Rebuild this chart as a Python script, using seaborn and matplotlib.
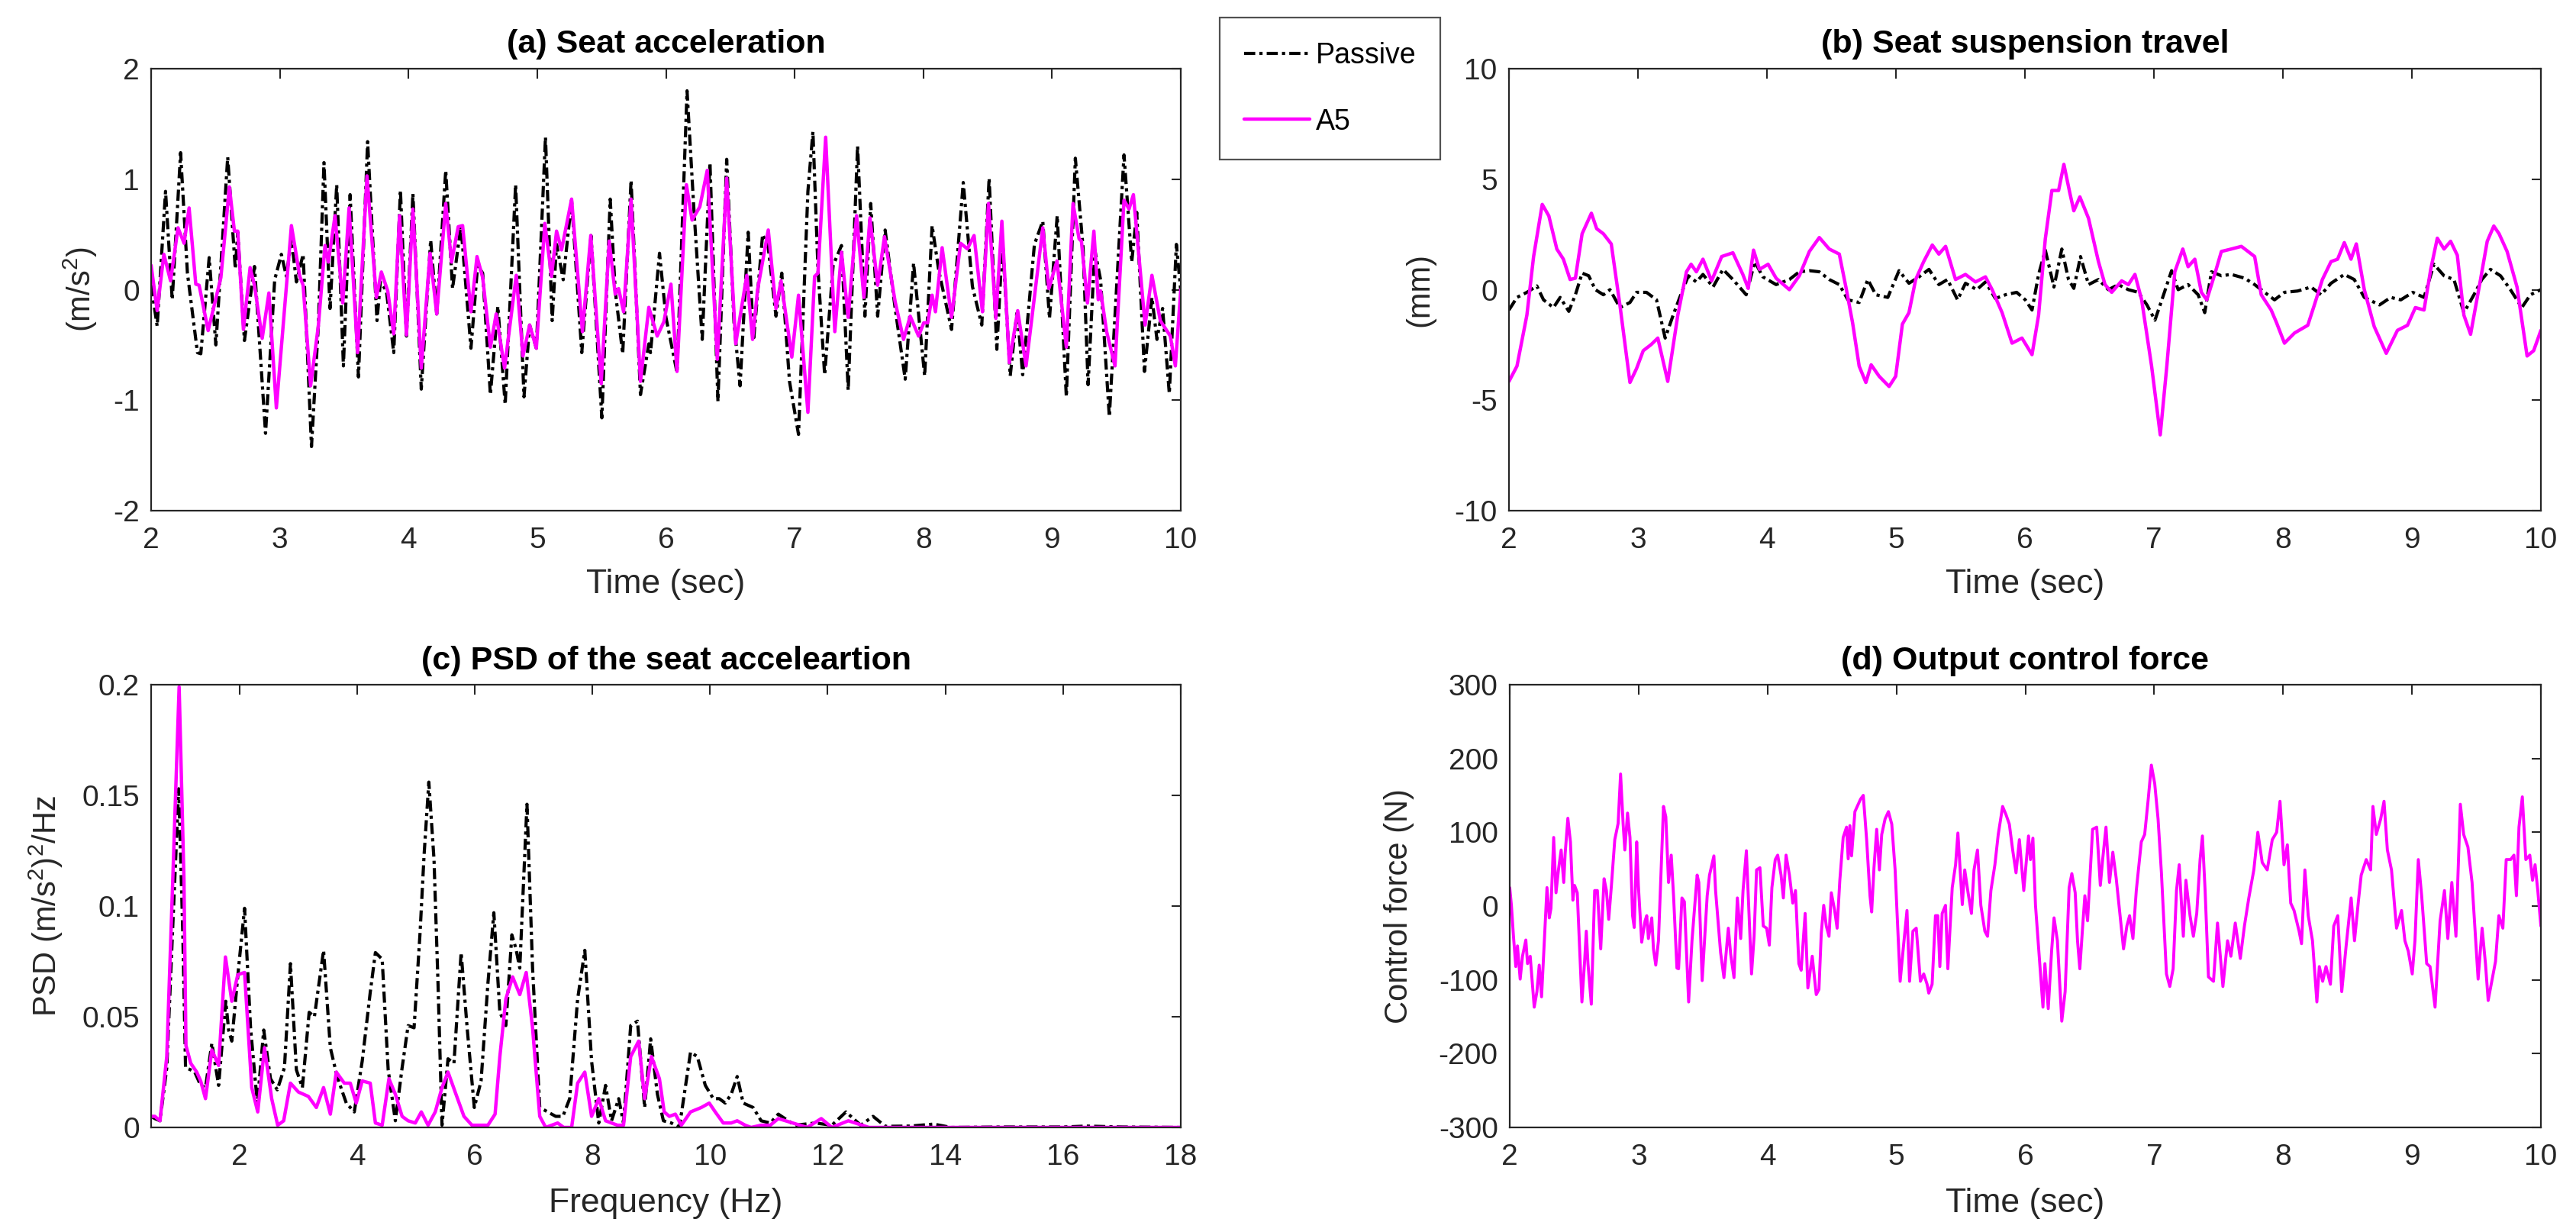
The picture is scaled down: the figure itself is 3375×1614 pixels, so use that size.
import numpy as np
import pandas as pd
import matplotlib
matplotlib.use("Agg")
import matplotlib.pyplot as plt
import matplotlib.ticker as mticker
import seaborn as sns

# ---------------------------------------------------------
# data
# ---------------------------------------------------------

# (a) seat acceleration (m/s^2)
acc_t_passive = [2.000, 2.047, 2.112, 2.164, 2.229, 2.282, 2.360, 2.386, 2.451, 2.503,
                 2.595, 2.654, 2.673, 2.725, 2.803, 2.889, 2.960, 3.012, 3.051, 3.090,
                 3.129, 3.181, 3.246, 3.299, 3.343, 3.390, 3.442, 3.494, 3.546, 3.611,
                 3.682, 3.755, 3.781, 3.828, 3.885, 3.937, 3.984, 4.034, 4.099, 4.172,
                 4.219, 4.289, 4.342, 4.407, 4.485, 4.537, 4.576, 4.636, 4.694, 4.751,
                 4.832, 4.897, 4.941, 4.993, 5.064, 5.116, 5.150, 5.202, 5.267, 5.346,
                 5.418, 5.502, 5.567, 5.606, 5.664, 5.729, 5.802, 5.867, 5.880, 5.950,
                 6.000, 6.086, 6.164, 6.216, 6.282, 6.342, 6.404, 6.472, 6.529, 6.576,
                 6.639, 6.681, 6.751, 6.795, 6.855, 6.900, 6.960, 7.030, 7.103, 7.142,
                 7.181, 7.233, 7.299, 7.364, 7.416, 7.489, 7.546, 7.591, 7.645, 7.703,
                 7.781, 7.859, 7.924, 8.010, 8.068, 8.120, 8.219, 8.310, 8.381, 8.454,
                 8.511, 8.571, 8.615, 8.675, 8.728, 8.772, 8.863, 8.928, 8.980, 9.040,
                 9.111, 9.181, 9.241, 9.280, 9.332, 9.377, 9.445, 9.559, 9.619, 9.658,
                 9.718, 9.776, 9.815, 9.859, 9.911, 9.966, 10.000]
acc_passive = [0.04, -0.33, 0.89, -0.09, 1.24, 0.15, -0.57, -0.58, 0.29, -0.50,
               1.20, 0.19, 0.52, -0.46, 0.21, -1.30, 0.09, 0.32, 0.12, 0.46,
               0.07, 0.32, -1.42, -0.33, 1.15, -0.17, 0.95, -0.69, 0.86, -0.79,
               1.34, -0.28, 0.07, -0.01, -0.57, 0.90, -0.42, 0.87, -0.90, 0.45,
               -0.22, 1.08, 0.01, 0.58, -0.53, 0.22, 0.15, -0.95, -0.15, -1.04,
               0.95, -0.97, -0.32, -0.53, 1.38, -0.28, 0.41, 0.09, 0.81, -0.57,
               0.49, -1.16, 0.82, -0.01, -0.58, 0.99, -0.95, -0.49, -0.57, 0.33,
               -0.25, -0.75, 1.80, 0.75, -0.45, 1.15, -1.01, 1.18, -0.30, -0.87,
               0.52, -0.46, 0.50, 0.38, -0.24, 0.15, -0.83, -1.31, 0.89, 1.43,
               0.19, -0.77, 0.22, 0.40, -0.91, 1.30, -0.24, 0.78, -0.24, 0.54,
               -0.17, -0.81, 0.24, -0.78, 0.58, 0.17, -0.36, 0.97, 0.03, -0.32,
               1.01, -0.54, 0.44, -0.78, -0.19, -0.77, 0.41, 0.62, -0.26, 0.67,
               -0.97, 1.19, 0.38, -0.86, 0.36, 0.09, -1.15, 1.22, 0.25, 0.70,
               -0.74, -0.07, -0.45, -0.17, -0.94, 0.41, -0.01]

acc_t_a5 = [2.000, 2.047, 2.099, 2.151, 2.209, 2.256, 2.295, 2.347, 2.373, 2.443,
            2.542, 2.608, 2.647, 2.673, 2.717, 2.769, 2.803, 2.863, 2.915, 2.973,
            3.090, 3.155, 3.181, 3.239, 3.299, 3.351, 3.377, 3.429, 3.489, 3.538,
            3.604, 3.677, 3.750, 3.789, 3.838, 3.885, 3.930, 3.984, 4.034, 4.099,
            4.167, 4.219, 4.289, 4.334, 4.386, 4.420, 4.485, 4.532, 4.576, 4.636,
            4.681, 4.746, 4.837, 4.889, 4.941, 4.993, 5.059, 5.111, 5.150, 5.189,
            5.267, 5.351, 5.416, 5.497, 5.559, 5.606, 5.632, 5.671, 5.729, 5.802,
            5.867, 5.932, 5.984, 6.039, 6.086, 6.159, 6.203, 6.263, 6.321, 6.399,
            6.472, 6.542, 6.628, 6.673, 6.712, 6.795, 6.855, 6.894, 6.978, 7.030,
            7.103, 7.155, 7.181, 7.241, 7.312, 7.364, 7.416, 7.481, 7.538, 7.585,
            7.645, 7.698, 7.781, 7.846, 7.898, 7.963, 8.003, 8.034, 8.068, 8.094,
            8.146, 8.219, 8.289, 8.342, 8.394, 8.459, 8.506, 8.563, 8.610, 8.668,
            8.733, 8.798, 8.928, 8.975, 9.038, 9.111, 9.163, 9.210, 9.228, 9.275,
            9.325, 9.359, 9.377, 9.424, 9.489, 9.559, 9.598, 9.632, 9.723, 9.776,
            9.841, 9.919, 9.958, 10.000]
acc_a5 = [0.22, -0.19, 0.32, 0.08, 0.56, 0.42, 0.74, 0.05, 0.04, -0.37,
          0.11, 0.93, 0.53, 0.53, -0.36, 0.20, 0.04, -0.44, -0.03, -1.07,
          0.58, 0.12, 0.04, -0.87, -0.33, 0.40, 0.25, 0.67, -0.12, 0.74,
          -0.57, 1.03, -0.07, 0.16, -0.01, -0.40, 0.67, -0.41, 0.73, -0.71,
          0.33, -0.22, 0.78, 0.25, 0.57, 0.58, -0.20, 0.30, 0.11, -0.52,
          -0.22, -0.71, 0.13, -0.60, -0.32, -0.53, 0.60, 0.12, 0.53, 0.36,
          0.82, -0.38, 0.49, -0.85, 0.44, -0.04, 0.01, -0.20, 0.82, -0.83,
          -0.16, -0.42, -0.29, 0.05, -0.74, 0.95, 0.63, 0.75, 1.08, -0.63,
          1.01, -0.49, 0.13, -0.45, 0.00, 0.54, -0.17, 0.08, -0.61, -0.05,
          -1.11, 0.12, 0.15, 1.38, -0.38, 0.34, -0.25, 0.67, -0.07, 0.65,
          0.04, 0.48, -0.11, -0.45, -0.24, -0.42, -0.30, -0.30, -0.05, -0.20,
          0.38, -0.25, 0.42, 0.37, 0.49, -0.20, 0.78, -0.26, 0.62, -0.66,
          -0.19, -0.69, 0.56, 0.01, 0.26, -0.52, 0.78, 0.46, 0.44, -0.12,
          0.53, -0.09, -0.01, -0.38, -0.69, 0.81, 0.73, 0.86, -0.32, 0.13,
          -0.28, -0.42, -0.69, 0.00]

# (b) seat suspension travel (mm)
trv_t_passive = [2.000, 2.062, 2.139, 2.216, 2.268, 2.345, 2.397, 2.464, 2.515, 2.567,
                 2.618, 2.670, 2.732, 2.783, 2.860, 2.938, 2.989, 3.066, 3.144, 3.211,
                 3.273, 3.324, 3.391, 3.453, 3.504, 3.582, 3.659, 3.736, 3.839, 3.906,
                 3.968, 4.071, 4.174, 4.251, 4.329, 4.406, 4.483, 4.561, 4.628, 4.715,
                 4.782, 4.844, 4.937, 5.024, 5.101, 5.179, 5.256, 5.333, 5.400, 5.478,
                 5.539, 5.627, 5.694, 5.771, 5.849, 5.936, 6.003, 6.055, 6.106, 6.158,
                 6.225, 6.286, 6.338, 6.379, 6.431, 6.493, 6.570, 6.647, 6.724, 6.802,
                 6.879, 6.946, 7.008, 7.075, 7.137, 7.188, 7.265, 7.343, 7.394, 7.446,
                 7.523, 7.600, 7.703, 7.781, 7.858, 7.935, 8.012, 8.115, 8.218, 8.296,
                 8.373, 8.476, 8.553, 8.631, 8.749, 8.836, 8.914, 9.007, 9.094, 9.171,
                 9.249, 9.326, 9.403, 9.481, 9.542, 9.609, 9.687, 9.764, 9.852, 9.919,
                 10.000]
trv_passive = [-0.92, -0.35, -0.12, 0.17, -0.46, -0.81, -0.35, -0.98, -0.23, 0.75,
               0.63, 0.00, -0.23, 0.00, -0.81, -0.58, -0.12, -0.12, -0.46, -2.19,
               -1.15, -0.35, 0.63, 0.35, 0.69, 0.12, 0.92, 0.46, -0.23, 1.27,
               0.58, 0.23, 0.46, 0.81, 0.86, 0.81, 0.46, 0.23, -0.46, -0.58,
               0.46, -0.23, -0.35, 0.86, 0.29, 0.58, 0.92, 0.23, 0.46, -0.46,
               0.29, 0.00, 0.35, -0.40, -0.23, -0.12, -0.46, -0.92, 0.69, 1.79,
               0.12, 1.84, 0.46, 0.06, 1.50, 0.23, 0.46, 0.00, 0.23, 0.00,
               -0.12, -0.69, -1.38, -0.23, 0.86, 0.00, 0.23, -0.23, -1.04, 0.81,
               0.63, 0.69, 0.52, 0.23, -0.12, -0.46, -0.12, -0.06, 0.12, -0.23,
               0.29, 0.69, 0.46, -0.35, -0.69, -0.35, -0.46, -0.12, -0.35, 1.15,
               0.63, 0.46, -1.04, -0.23, 0.46, 0.92, 0.63, 0.00, -0.81, -0.23,
               0.00]

trv_t_a5 = [2.000, 2.062, 2.139, 2.191, 2.258, 2.309, 2.371, 2.422, 2.474, 2.515,
            2.567, 2.639, 2.680, 2.732, 2.793, 2.860, 2.938, 2.989, 3.041, 3.103,
            3.154, 3.231, 3.309, 3.376, 3.412, 3.453, 3.504, 3.571, 3.649, 3.736,
            3.813, 3.855, 3.896, 3.942, 4.009, 4.071, 4.174, 4.251, 4.329, 4.406,
            4.483, 4.561, 4.612, 4.664, 4.715, 4.767, 4.808, 4.870, 4.947, 4.998,
            5.050, 5.101, 5.153, 5.215, 5.282, 5.333, 5.385, 5.462, 5.539, 5.617,
            5.694, 5.746, 5.823, 5.900, 5.977, 6.055, 6.106, 6.158, 6.209, 6.261,
            6.302, 6.348, 6.379, 6.426, 6.493, 6.570, 6.621, 6.673, 6.750, 6.802,
            6.853, 6.905, 6.982, 7.049, 7.100, 7.162, 7.224, 7.265, 7.317, 7.368,
            7.410, 7.471, 7.523, 7.600, 7.678, 7.781, 7.832, 7.909, 7.951, 8.012,
            8.090, 8.193, 8.244, 8.306, 8.373, 8.424, 8.476, 8.528, 8.569, 8.631,
            8.708, 8.801, 8.888, 8.966, 9.027, 9.094, 9.146, 9.197, 9.249, 9.300,
            9.352, 9.403, 9.455, 9.532, 9.584, 9.635, 9.676, 9.738, 9.815, 9.893,
            9.944, 10.000]
trv_a5 = [-4.15, -3.46, -1.15, 1.50, 3.86, 3.34, 1.84, 1.38, 0.46, 0.52,
          2.53, 3.46, 2.76, 2.53, 2.07, -0.69, -4.20, -3.57, -2.76, -2.48,
          -2.19, -4.15, -1.15, 0.81, 1.15, 0.81, 1.38, 0.40, 1.50, 1.67,
          0.69, 0.06, 1.79, 0.92, 1.15, 0.52, 0.00, 0.63, 1.73, 2.36,
          1.84, 1.61, 0.12, -1.50, -3.46, -4.20, -3.40, -3.92, -4.38, -3.92,
          -1.56, -1.04, 0.46, 1.27, 2.02, 1.61, 1.96, 0.46, 0.69, 0.35,
          0.58, 0.00, -1.04, -2.42, -2.19, -2.94, -1.15, 2.30, 4.49, 4.49,
          5.67, 4.38, 3.57, 4.20, 3.23, 1.27, 0.23, -0.12, 0.40, 0.23,
          0.69, -0.46, -3.46, -6.57, -3.46, 0.81, 1.84, 1.04, 1.38, -0.12,
          -0.46, 0.69, 1.73, 1.84, 1.96, 1.50, -0.23, -0.92, -1.50, -2.42,
          -1.96, -1.61, -0.69, 0.46, 1.27, 1.38, 2.13, 1.38, 2.07, 0.00,
          -1.67, -2.88, -1.84, -1.61, -0.81, -0.92, 0.92, 2.33, 1.84, 2.19,
          1.56, -1.15, -2.02, 0.46, 2.19, 2.88, 2.53, 1.73, 0.12, -3.00,
          -2.76, -1.84]

# (c) PSD of the seat acceleration ((m/s^2)^2/Hz)
psd_f_passive = [0.500, 0.563, 0.651, 0.766, 0.881, 0.969, 1.037, 1.085, 1.173, 1.241,
                 1.342, 1.424, 1.532, 1.647, 1.769, 1.817, 1.871, 1.986, 2.088, 2.190,
                 2.305, 2.414, 2.529, 2.644, 2.766, 2.868, 2.969, 3.071, 3.186, 3.275,
                 3.431, 3.546, 3.661, 3.817, 3.953, 4.088, 4.224, 4.312, 4.427, 4.529,
                 4.651, 4.766, 4.868, 4.969, 5.071, 5.139, 5.220, 5.308, 5.376, 5.444,
                 5.546, 5.647, 5.769, 5.871, 5.993, 6.108, 6.224, 6.325, 6.427, 6.529,
                 6.631, 6.698, 6.766, 6.820, 6.888, 6.983, 7.105, 7.241, 7.376, 7.498,
                 7.614, 7.749, 7.871, 7.986, 8.108, 8.224, 8.325, 8.447, 8.529, 8.651,
                 8.766, 8.888, 8.990, 9.105, 9.207, 9.342, 9.478, 9.668, 9.783, 9.919,
                 10.054, 10.156, 10.258, 10.359, 10.461, 10.563, 10.732, 10.868, 11.024, 11.160,
                 11.440, 11.790, 12.070, 12.310, 12.560, 12.770, 12.980, 13.400, 13.800, 14.100,
                 15.000, 16.000, 16.400, 17.000, 18.000]
psd_passive = [0.005, 0.004, 0.003, 0.027, 0.099, 0.153, 0.089, 0.027, 0.026, 0.025,
               0.019, 0.018, 0.038, 0.019, 0.057, 0.044, 0.039, 0.072, 0.099, 0.045,
               0.011, 0.044, 0.022, 0.017, 0.027, 0.074, 0.026, 0.018, 0.052, 0.050,
               0.080, 0.036, 0.023, 0.011, 0.007, 0.030, 0.061, 0.079, 0.076, 0.026,
               0.003, 0.027, 0.046, 0.045, 0.088, 0.123, 0.156, 0.121, 0.065, 0.001,
               0.031, 0.029, 0.079, 0.045, 0.009, 0.021, 0.065, 0.097, 0.052, 0.046,
               0.087, 0.081, 0.072, 0.105, 0.146, 0.072, 0.009, 0.007, 0.005, 0.005,
               0.013, 0.058, 0.080, 0.030, 0.002, 0.019, 0.003, 0.013, 0.002, 0.046,
               0.048, 0.009, 0.040, 0.015, 0.003, 0.002, 0.000, 0.034, 0.032, 0.019,
               0.013, 0.013, 0.011, 0.015, 0.023, 0.011, 0.009, 0.003, 0.002, 0.006,
               0.001, 0.002, 0.001, 0.007, 0.001, 0.005, 0.0005, 0.0006, 0.0015, 0.000,
               0.0002, 0.0002, 0.0006, 0.0002, 0.000]

psd_f_a5 = [0.500, 0.563, 0.651, 0.766, 0.868, 0.976, 1.058, 1.092, 1.173, 1.275,
            1.342, 1.424, 1.532, 1.647, 1.763, 1.871, 1.973, 2.088, 2.210, 2.312,
            2.427, 2.549, 2.651, 2.753, 2.868, 3.003, 3.173, 3.308, 3.431, 3.546,
            3.647, 3.783, 3.885, 3.986, 4.088, 4.224, 4.312, 4.427, 4.542, 4.651,
            4.766, 4.868, 4.990, 5.092, 5.207, 5.329, 5.444, 5.546, 5.681, 5.817,
            5.953, 6.088, 6.224, 6.346, 6.427, 6.529, 6.644, 6.766, 6.875, 6.983,
            7.105, 7.207, 7.308, 7.410, 7.512, 7.647, 7.749, 7.871, 7.986, 8.108,
            8.224, 8.325, 8.427, 8.529, 8.651, 8.786, 8.888, 9.003, 9.139, 9.220,
            9.308, 9.410, 9.512, 9.668, 9.851, 9.986, 10.088, 10.224, 10.359, 10.461,
            10.597, 10.698, 10.868, 11.024, 11.160, 11.650, 11.890, 12.070, 12.350, 12.700,
            14.000, 16.000, 18.000]
psd_a5 = [0.005, 0.005, 0.003, 0.032, 0.112, 0.199, 0.112, 0.037, 0.029, 0.025,
          0.021, 0.013, 0.035, 0.028, 0.077, 0.057, 0.069, 0.070, 0.018, 0.007,
          0.036, 0.013, 0.001, 0.003, 0.020, 0.016, 0.014, 0.009, 0.018, 0.006,
          0.025, 0.020, 0.020, 0.011, 0.021, 0.020, 0.002, 0.001, 0.022, 0.015,
          0.005, 0.003, 0.002, 0.007, 0.001, 0.007, 0.018, 0.025, 0.015, 0.005,
          0.001, 0.001, 0.001, 0.006, 0.032, 0.058, 0.068, 0.060, 0.070, 0.045,
          0.005, 0.000, 0.001, 0.002, 0.000, 0.000, 0.020, 0.025, 0.005, 0.013,
          0.003, 0.002, 0.001, 0.001, 0.032, 0.039, 0.013, 0.032, 0.022, 0.007,
          0.005, 0.006, 0.001, 0.007, 0.009, 0.011, 0.007, 0.002, 0.002, 0.003,
          0.001, 0.000, 0.001, 0.001, 0.004, 0.000, 0.004, 0.000, 0.003, 0.000,
          0.000, 0.000, 0.000]

# (d) output control force (N), A5 only
force_t = [2.000, 2.013, 2.029, 2.047, 2.060, 2.081, 2.099, 2.125, 2.138, 2.159,
           2.190, 2.211, 2.229, 2.247, 2.289, 2.307, 2.320, 2.341, 2.359, 2.378,
           2.399, 2.419, 2.430, 2.451, 2.471, 2.490, 2.503, 2.524, 2.560, 2.581,
           2.594, 2.607, 2.633, 2.659, 2.680, 2.706, 2.732, 2.750, 2.768, 2.789,
           2.815, 2.841, 2.860, 2.880, 2.893, 2.914, 2.933, 2.953, 2.966, 2.985,
           2.998, 3.024, 3.050, 3.063, 3.076, 3.102, 3.115, 3.133, 3.154, 3.193,
           3.211, 3.232, 3.253, 3.271, 3.297, 3.310, 3.336, 3.355, 3.388, 3.414,
           3.454, 3.467, 3.493, 3.532, 3.550, 3.584, 3.597, 3.636, 3.662, 3.696,
           3.714, 3.740, 3.766, 3.792, 3.810, 3.836, 3.876, 3.896, 3.915, 3.941,
           3.967, 3.993, 4.014, 4.034, 4.060, 4.079, 4.105, 4.123, 4.144, 4.170,
           4.196, 4.217, 4.243, 4.261, 4.292, 4.313, 4.347, 4.378, 4.399, 4.417,
           4.436, 4.456, 4.477, 4.495, 4.521, 4.540, 4.561, 4.587, 4.613, 4.626,
           4.639, 4.652, 4.678, 4.704, 4.722, 4.743, 4.769, 4.795, 4.808, 4.826,
           4.847, 4.868, 4.886, 4.912, 4.938, 4.964, 4.990, 5.029, 5.055, 5.082,
           5.102, 5.128, 5.154, 5.186, 5.212, 5.238, 5.251, 5.277, 5.303, 5.321,
           5.337, 5.355, 5.381, 5.399, 5.433, 5.459, 5.477, 5.511, 5.530, 5.556,
           5.582, 5.602, 5.629, 5.655, 5.686, 5.707, 5.733, 5.764, 5.790, 5.824,
           5.850, 5.876, 5.902, 5.928, 5.954, 5.988, 6.025, 6.040, 6.059, 6.079,
           6.105, 6.137, 6.152, 6.178, 6.204, 6.223, 6.249, 6.283, 6.309, 6.340,
           6.361, 6.387, 6.405, 6.423, 6.444, 6.462, 6.483, 6.522, 6.554, 6.582,
           6.600, 6.626, 6.653, 6.679, 6.705, 6.731, 6.762, 6.788, 6.809, 6.835,
           6.861, 6.900, 6.926, 6.952, 6.978, 7.004, 7.030, 7.056, 7.095, 7.121,
           7.147, 7.173, 7.194, 7.226, 7.246, 7.278, 7.304, 7.330, 7.356, 7.374,
           7.395, 7.421, 7.460, 7.491, 7.533, 7.569, 7.595, 7.629, 7.668, 7.700,
           7.734, 7.773, 7.804, 7.838, 7.877, 7.916, 7.950, 7.976, 8.007, 8.033,
           8.059, 8.085, 8.124, 8.143, 8.169, 8.195, 8.228, 8.262, 8.281, 8.307,
           8.333, 8.367, 8.393, 8.424, 8.455, 8.489, 8.528, 8.554, 8.585, 8.606,
           8.645, 8.679, 8.697, 8.723, 8.757, 8.783, 8.809, 8.841, 8.880, 8.919,
           8.945, 8.971, 9.002, 9.023, 9.049, 9.075, 9.114, 9.140, 9.179, 9.218,
           9.252, 9.278, 9.309, 9.341, 9.375, 9.401, 9.434, 9.466, 9.513, 9.544,
           9.570, 9.591, 9.622, 9.648, 9.674, 9.705, 9.731, 9.765, 9.791, 9.810,
           9.830, 9.856, 9.883, 9.914, 9.935, 9.955, 9.976, 10.000]
force_a5 = [25, 1, -41, -82, -54, -99, -68, -46, -78, -68,
            -137, -116, -80, -123, 25, -16, -3, 93, 18, 49,
            76, 32, 71, 119, 87, 8, 28, 18, -130, -75,
            -34, -78, -133, 21, 21, -58, 37, 21, -18, 28,
            90, 112, 179, 111, 76, 126, 93, -13, -29, 87,
            28, -49, -20, -13, -44, -16, -58, -80, -47, 135,
            121, 32, 69, 14, -84, -85, 11, 6, -130, -47,
            42, 32, -101, 14, 42, 68, 21, -63, -97, -30,
            -65, -97, 11, -44, 21, 75, -92, -41, 49, 52,
            -27, -30, -53, 25, 63, 69, 42, 11, 69, 42,
            4, 21, -78, -87, -10, -111, -68, -120, -113, -37,
            1, -27, -41, 18, -6, -30, 35, 93, 107, 64,
            109, 68, 128, 138, 145, 150, 90, 14, -8, 52,
            104, 49, 97, 118, 128, 111, 49, -102, -54, -6,
            -102, -34, -30, -102, -92, -106, -118, -106, -13, -13,
            -82, -10, 1, -85, 25, 56, 99, 2, 49, 18,
            -10, 49, 76, 1, -34, -41, 21, 56, 97, 135,
            124, 111, 76, 45, 90, 21, 95, 63, 92, 1,
            -61, -137, -78, -139, -61, -16, -47, -156, -116, 25,
            44, 18, -47, -85, -30, 14, -20, 104, 107, 28,
            63, 107, 32, 73, 38, -6, -58, -27, -13, -44,
            21, 87, 97, 142, 191, 166, 118, 45, -92, -109,
            -85, 21, 56, -41, 35, -13, -41, -10, 63, 95,
            21, -96, -102, -23, -109, -47, -68, -23, -71, -27,
            11, 49, 100, 59, 49, 90, 100, 142, 56, 83,
            4, -6, -34, -51, 49, -13, -47, -130, -82, -102,
            -82, -106, -27, -13, -116, -54, 11, -47, 8, 42,
            63, 49, 135, 97, 118, 142, 76, 49, -30, -6,
            -47, -61, -92, -47, 63, 14, -78, -82, -137, -20,
            21, -44, 32, -41, 138, 97, 80, 32, -99, -30,
            -78, -128, -99, -75, -13, -30, 63, 63, 69, 14,
            107, 148, 63, 69, 35, 56, 21, -27]

# ---------------------------------------------------------
# style
# ---------------------------------------------------------
sns.set_theme(style="white")
plt.rcParams["font.family"] = ["Liberation Sans", "DejaVu Sans"]
plt.rcParams["mathtext.fontset"] = "custom"
plt.rcParams["mathtext.rm"] = "Liberation Sans"
plt.rcParams["mathtext.it"] = "Liberation Sans:italic"

GRAY = "#262626"
MAG = "#FF00FF"
DASHDOT = (0, (3.5, 1.3, 1.0, 1.3))
TICK_FS = 28
XLAB_FS = 32
YLAB_FS = 30
TITLE_FS = 31

fig = plt.figure(figsize=(33.75, 16.14), dpi=100)
fig.patch.set_facecolor("white")

W, H = 3375.0, 1614.0
def px_axes(x0, y0, x1, y1):
    return fig.add_axes([x0 / W, 1 - y1 / H, (x1 - x0) / W, (y1 - y0) / H])

ax_a = px_axes(198, 90, 1547, 669)
ax_b = px_axes(1977, 90, 3329, 669)
ax_c = px_axes(198, 897, 1547, 1477)
ax_d = px_axes(1978, 897, 3329, 1477)


def style_axes(ax):
    ax.set_facecolor("white")
    for sp in ax.spines.values():
        sp.set_visible(True)
        sp.set_color(GRAY)
        sp.set_linewidth(1.6)
    ax.tick_params(direction="in", top=True, right=True, length=9, width=1.5,
                   colors=GRAY, labelsize=TICK_FS)
    ax.tick_params(axis="x", pad=15)
    ax.tick_params(axis="y", pad=11)
    ax.xaxis.set_major_formatter(mticker.FormatStrFormatter("%g"))
    ax.yaxis.set_major_formatter(mticker.FormatStrFormatter("%g"))
    ax.grid(False)


def labels(ax, title, xlabel, ylabel, ylab_x, title_y=1.056, xlab_y=-0.166):
    ax.set_title(title, fontsize=TITLE_FS, fontweight="bold", color="black",
                 y=title_y, pad=0, va="center")
    ax.set_xlabel(xlabel, fontsize=XLAB_FS, color=GRAY)
    ax.set_ylabel(ylabel, fontsize=YLAB_FS, color=GRAY)
    ax.xaxis.set_label_coords(0.5, xlab_y)
    ax.xaxis.label.set_va("center")
    ax.yaxis.set_label_coords(ylab_x, 0.5)
    ax.yaxis.label.set_va("center")


def draw_pair(ax, df_p, df_5, x, with_label=False):
    sns.lineplot(data=df_p, x=x, y="v", ax=ax, color="black", linestyle=DASHDOT,
                 linewidth=3.0, estimator=None, sort=False,
                 label="Passive" if with_label else None, legend=with_label)
    sns.lineplot(data=df_5, x=x, y="v", ax=ax, color=MAG, linestyle="-",
                 linewidth=3.2, estimator=None, sort=False,
                 label="A5" if with_label else None, legend=with_label)


# (a)
draw_pair(ax_a, pd.DataFrame({"t": acc_t_passive, "v": acc_passive}),
          pd.DataFrame({"t": acc_t_a5, "v": acc_a5}), "t", with_label=True)
ax_a.set_xlim(2, 10)
ax_a.set_ylim(-2, 2)
ax_a.set_xticks(range(2, 11))
ax_a.set_yticks([-2, -1, 0, 1, 2])
style_axes(ax_a)
labels(ax_a, "(a) Seat acceleration", "Time (sec)", "(m/s$^2$)", -0.069)

# (b)
draw_pair(ax_b, pd.DataFrame({"t": trv_t_passive, "v": trv_passive}),
          pd.DataFrame({"t": trv_t_a5, "v": trv_a5}), "t")
ax_b.set_xlim(2, 10)
ax_b.set_ylim(-10, 10)
ax_b.set_xticks(range(2, 11))
ax_b.set_yticks([-10, -5, 0, 5, 10])
style_axes(ax_b)
labels(ax_b, "(b) Seat suspension travel", "Time (sec)", "(mm)", -0.086)

# (c)
draw_pair(ax_c, pd.DataFrame({"f": psd_f_passive, "v": psd_passive}),
          pd.DataFrame({"f": psd_f_a5, "v": psd_a5}), "f")
ax_c.set_xlim(0.5, 18)
ax_c.set_ylim(0, 0.2)
ax_c.set_xticks(range(2, 19, 2))
ax_c.set_yticks([0, 0.05, 0.1, 0.15, 0.2])
style_axes(ax_c)
labels(ax_c, "(c) PSD of the seat acceleartion", "Frequency (Hz)",
       "PSD (m/s$^2$)$^2$/Hz", -0.102, title_y=1.054, xlab_y=-0.171)

# (d)
sns.lineplot(data=pd.DataFrame({"t": force_t, "v": force_a5}), x="t", y="v", ax=ax_d,
             color=MAG, linestyle="-", linewidth=2.8, estimator=None, sort=False,
             legend=False)
ax_d.set_xlim(2, 10)
ax_d.set_ylim(-300, 300)
ax_d.set_xticks(range(2, 11))
ax_d.set_yticks(range(-300, 301, 100))
style_axes(ax_d)
labels(ax_d, "(d) Output control force", "Time (sec)", "Control force (N)", -0.107,
       title_y=1.054, xlab_y=-0.171)

# legend between the two top panels
handles, labs = ax_a.get_legend_handles_labels()
ax_a.get_legend().remove()
leg = fig.legend(handles, labs, loc="upper left", bbox_to_anchor=(1598 / W, 1 - 23 / H),
                 bbox_transform=fig.transFigure, borderaxespad=0, frameon=True,
                 fancybox=False, edgecolor=GRAY, fontsize=27, handlelength=2.3,
                 handletextpad=0.2, labelspacing=1.35, borderpad=0.85)
leg.get_frame().set_linewidth(1.6)
for txt in leg.get_texts():
    txt.set_color("black")

fig.savefig("out.png", dpi=100, facecolor="white")
